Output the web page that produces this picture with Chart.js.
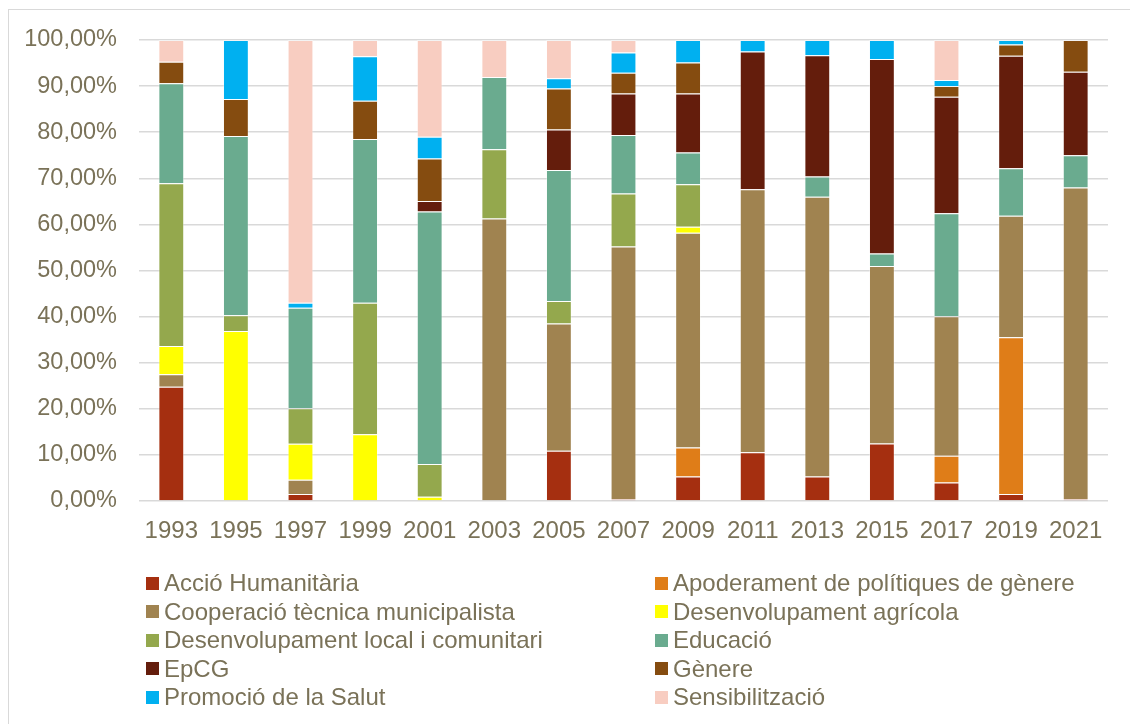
<!DOCTYPE html>
<html>
<head>
<meta charset="utf-8">
<script src="https://cdn.jsdelivr.net/npm/chart.js@4.4.1/dist/chart.umd.min.js"></script>
<style>
  html, body { margin: 0; padding: 0; background: #fff; }
  #wrap { position: relative; width: 1130px; height: 724px; overflow: hidden; }
  #frame { position: absolute; left: 8px; top: 9px; right: -2px; bottom: -2px;
           border-top: 1.5px solid #d9d9d9; border-left: 1.5px solid #d9d9d9; }
  #chart { position: absolute; left: 0; top: 0; }
  #legend { position: absolute; left: 146px; top: 569px; width: 980px;
            display: grid; grid-template-columns: 509px 460px; grid-auto-rows: 28.5px;
            font-family: "Liberation Sans", Arial, sans-serif; font-size: 24px; color: #7a7258; }
  #legend .item { display: flex; align-items: center; white-space: nowrap; }
  #legend .box { width: 13px; height: 13px; margin-right: 5px; flex: none; }
</style>
</head>
<body>
<div id="wrap">
  <div id="frame"></div>
  <canvas id="chart" width="1130" height="724"></canvas>
  <div id="legend"></div>
</div>
<script>
// anys
const years = ['1993', '1995', '1997', '1999', '2001', '2003', '2005', '2007', '2009', '2011', '2013', '2015', '2017', '2019', '2021'];

// percentatges per àmbit (llegits del gràfic)
const accioHumanitaria     = [24.8, 0, 1.5, 0, 0, 0, 10.9, 0.4, 5.3, 10.6, 5.3, 12.5, 4.0, 1.5, 0.4];
const apoderament          = [0, 0, 0, 0, 0, 0, 0, 0, 6.3, 0, 0, 0, 5.8, 34.0, 0];
const cooperacioTecnica    = [2.7, 0, 3.1, 0, 0, 61.3, 27.6, 54.8, 46.6, 57.0, 60.7, 38.5, 30.3, 26.4, 67.6];
const desenvAgricola       = [6.1, 36.9, 7.8, 14.5, 0.9, 0, 0, 0, 1.3, 0, 0, 0, 0, 0, 0];
const desenvLocal          = [35.3, 3.4, 7.7, 28.5, 7.1, 15.0, 4.9, 11.5, 9.2, 0, 0, 0, 0, 0, 0];
const educacio             = [21.7, 38.9, 21.8, 35.5, 54.8, 15.7, 28.4, 12.7, 6.9, 0, 4.4, 2.7, 22.3, 10.3, 7.0];
const epcg                 = [0, 0, 0, 0, 2.3, 0, 8.8, 9.0, 12.8, 29.9, 26.3, 42.2, 25.3, 24.4, 18.1];
const genere               = [4.7, 8.0, 0, 8.3, 9.2, 0, 8.9, 4.5, 6.7, 0, 0, 0, 2.3, 2.4, 6.9];
const promocioSalut        = [0, 12.8, 1.1, 9.7, 4.7, 0, 2.2, 4.4, 4.9, 2.5, 3.3, 4.1, 1.3, 1.0, 0];
const sensibilitzacio      = [4.7, 0, 57.0, 3.5, 21.0, 8.0, 8.3, 2.7, 0, 0, 0, 0, 8.7, 0, 0];

const series = [
    { label: 'Acció Humanitària', data: accioHumanitaria, color: '#a52f10' },
    { label: 'Apoderament de polítiques de gènere', data: apoderament, color: '#df7d18' },
    { label: 'Cooperació tècnica municipalista', data: cooperacioTecnica, color: '#a08350' },
    { label: 'Desenvolupament agrícola', data: desenvAgricola, color: '#ffff00' },
    { label: 'Desenvolupament local i comunitari', data: desenvLocal, color: '#94a84d' },
    { label: 'Educació', data: educacio, color: '#6aab8f' },
    { label: 'EpCG', data: epcg, color: '#641d0c' },
    { label: 'Gènere', data: genere, color: '#854c10' },
    { label: 'Promoció de la Salut', data: promocioSalut, color: '#00b0f0' },
    { label: 'Sensibilització', data: sensibilitzacio, color: '#f8cdc1' }
];

const textColor = '#7a7258';
Chart.defaults.font.family = '"Liberation Sans", Arial, sans-serif';
Chart.defaults.font.size = 24;
Chart.defaults.color = textColor;

const chart = new Chart(document.getElementById('chart'), {
    type: 'bar',
    data: {
        labels: years,
        datasets: series.map(s => ({
            label: s.label,
            data: s.data.map(v => v === 0 ? null : v),
            backgroundColor: s.color,
            borderColor: 'rgba(255,255,255,0.35)',
            borderWidth: 1,
            categoryPercentage: 0.8,
            barPercentage: 0.5
        }))
    },
    options: {
        responsive: false,
        animation: false,
        layout: { padding: { top: 40, right: 22, left: 0, bottom: 0 } },
        plugins: {
            legend: { display: false },
            tooltip: { enabled: false }
        },
        scales: {
            x: {
                stacked: true,
                grid: { display: false, drawTicks: false },
                border: { display: false },
                ticks: { padding: 16, color: textColor, maxRotation: 0 },
                afterFit: scale => { scale.height = 223; }
            },
            y: {
                stacked: true,
                min: 0,
                max: 100,
                grid: { color: '#d9d9d9', lineWidth: 1.5, drawTicks: false },
                border: { display: false },
                ticks: {
                    stepSize: 10,
                    padding: 22,
                    color: textColor,
                    font: { size: 23.5 },
                    callback: v => v.toFixed(2).replace('.', ',') + '%'
                },
                afterFit: scale => { scale.width = 139; }
            }
        }
    }
});

// llegenda en dues columnes
const legend = document.getElementById('legend');
chart.data.datasets.forEach(ds => {
    const item = document.createElement('div');
    item.className = 'item';
    const box = document.createElement('span');
    box.className = 'box';
    box.style.background = ds.backgroundColor;
    const txt = document.createElement('span');
    txt.textContent = ds.label;
    item.appendChild(box);
    item.appendChild(txt);
    legend.appendChild(item);
});
</script>
</body>
</html>
